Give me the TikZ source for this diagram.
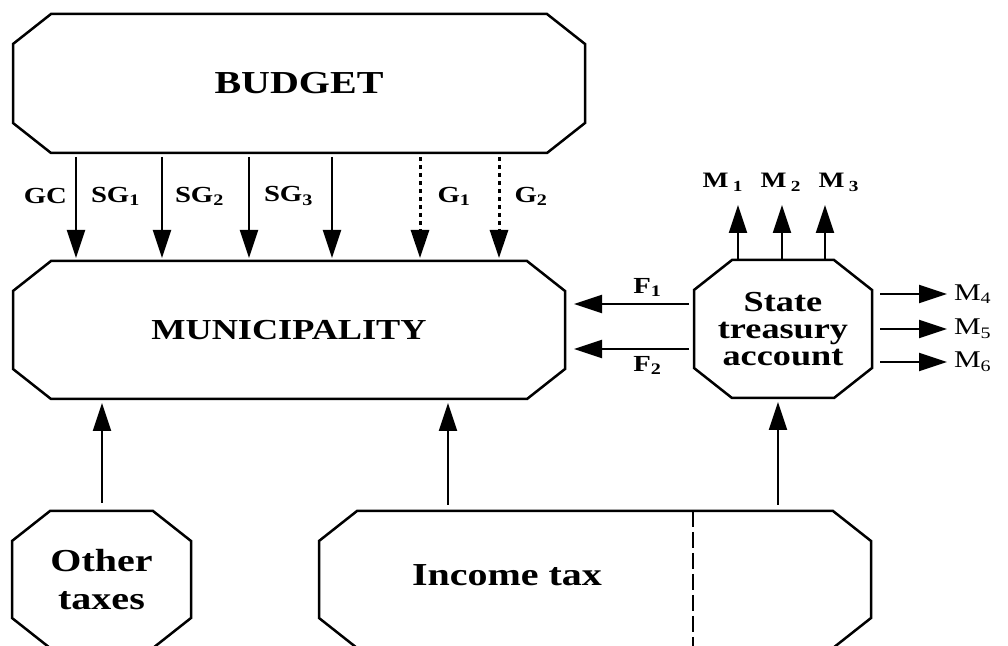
\documentclass[tikz,border=0pt]{standalone}
\usepackage{fontspec}
\setmainfont{Liberation Serif}[FakeStretch=1.25]
\usetikzlibrary{calc,arrows.meta}
\newcommand{\msub}[1]{\hspace{0.2em}\textsubscript{#1}}

\begin{document}
\begin{tikzpicture}[x=0.5pt, y=-0.5pt,
  box/.style={inner sep=0pt, outer sep=0pt, align=center, font=\fontsize{16}{19}\selectfont\bfseries},
  octline/.style={line width=1.25pt, line join=miter},
  flow/.style={line width=1pt, -{Triangle[length=14pt,width=9pt]}},
  dotflow/.style={flow, line width=1.5pt, dash pattern=on 2pt off 2pt},
  tag/.style={font=\fontsize{11.5}{12}\selectfont\bfseries, inner sep=2pt},
  mtag/.style={font=\fontsize{11}{12}\selectfont\bfseries, inner sep=1pt}]
\path[use as bounding box] (0,0) rectangle (1008,646);
\clip (0,0) rectangle (1008,646);
% boxes
\node[box, minimum width=286pt, minimum height=69.5pt] (budget) at (299,83.5) {BUDGET};
\node[box, minimum width=276pt, minimum height=69pt, font=\fontsize{14.5}{17}\selectfont\bfseries] (muni) at (289,330) {MUNICIPALITY};
\node[box, minimum width=89pt, minimum height=69pt, font=\fontsize{14.5}{13.6}\selectfont\bfseries] (treasury) at (783,329) {State\\treasury\\account};
\node[box, minimum width=89.5pt, minimum height=68.5pt] (other) at (101.5,579.5) {Other\\taxes};
\node[box, minimum width=276pt, minimum height=68.5pt] (income) at (595,579.5) {};
\node[box] (incometext) at (507,575) {Income tax};
\foreach \n in {budget,muni,treasury,other,income}
  \draw[octline] ($(\n.north west)+(19pt,0)$) -- ($(\n.north east)+(-19pt,0)$) -- ($(\n.north east)+(0,-15pt)$)
    -- ($(\n.south east)+(0,15pt)$) -- ($(\n.south east)+(-19pt,0)$) -- ($(\n.south west)+(19pt,0)$)
    -- ($(\n.south west)+(0,15pt)$) -- ($(\n.north west)+(0,-15pt)$) -- cycle;
\draw[line width=1pt, dash pattern=on 8pt off 2.5pt] (693,0 |- income.north) -- (693,0 |- income.south);
% budget to municipality
\draw[flow, shorten <=2pt, shorten >=1.5pt] (76,0 |- budget.south) -- (76,0 |- muni.north)
  node[tag, pos=0.4, left=2pt] {GC} node[tag, pos=0.4, right=5pt] {SG\textsubscript{1}};
\draw[flow, shorten <=2pt, shorten >=1.5pt] (162,0 |- budget.south) -- (162,0 |- muni.north)
  node[tag, pos=0.4, right=4pt] {SG\textsubscript{2}};
\draw[flow, shorten <=2pt, shorten >=1.5pt] (249,0 |- budget.south) -- (249,0 |- muni.north)
  node[tag, pos=0.4, right=5pt] {SG\textsubscript{3}};
\draw[flow, shorten <=2pt, shorten >=1.5pt] (332,0 |- budget.south) -- (332,0 |- muni.north);
\draw[dotflow, shorten <=2pt, shorten >=1.5pt] (420,0 |- budget.south) -- (420,0 |- muni.north)
  node[tag, pos=0.4, right=6pt] {G\textsubscript{1}};
\draw[dotflow, shorten <=2pt, shorten >=1.5pt] (499,0 |- budget.south) -- (499,0 |- muni.north)
  node[tag, pos=0.4, right=5pt] {G\textsubscript{2}};
% treasury outputs
\foreach \x/\k/\lx in {738/1/723,782/2/781,825/3/839} {
  \coordinate (mup\k) at (\x,205);
  \draw[flow] (\x,0 |- treasury.north) -- (mup\k);
  \node[mtag, anchor=base] (mlab\k) at (\lx,188) {M\msub{\k}};
}
\foreach \y/\k in {294/4,329/5,362/6} {
  \coordinate (mright\k) at (947,\y);
  \draw[flow, shorten <=4pt] (treasury.east |- 0,\y) -- (mright\k)
    node[mtag, anchor=west, xshift=2pt, font=\fontsize{12}{13}\selectfont\mdseries] (mlab\k) {M\textsubscript{\k}};
}
\draw[flow, shorten <=2.5pt, shorten >=4.5pt] (treasury.west |- 0,304) -- (muni.east |- 0,304)
  node[tag, pos=0.36, above=1pt] {F\textsubscript{1}};
\draw[flow, shorten <=2.5pt, shorten >=4.5pt] (treasury.west |- 0,349) -- (muni.east |- 0,349)
  node[tag, pos=0.36, below=1pt] {F\textsubscript{2}};
% taxes into municipality and treasury
\draw[flow, shorten <=4pt, shorten >=2pt] (102,0 |- other.north) -- (102,0 |- muni.south);
\draw[flow, shorten <=3pt, shorten >=2pt] (448,0 |- income.north) -- (448,0 |- muni.south);
\draw[flow, shorten <=3pt, shorten >=2pt] (778,0 |- income.north) -- (778,0 |- treasury.south);
\end{tikzpicture}
\end{document}
